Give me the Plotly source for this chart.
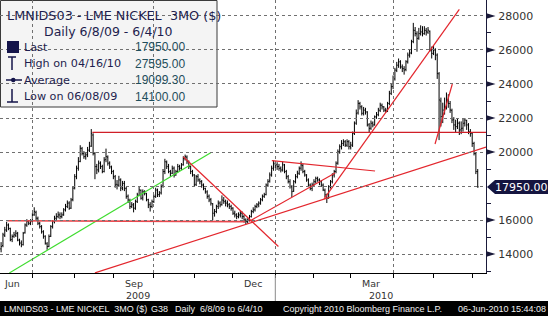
import numpy as np
import pandas as pd
import plotly.graph_objects as go

# ---------------- data ----------------
open_ = [
14300,14500,15100,15400,15700,15500,14850,15050,15100,15200,
14800,14650,14550,15250,15700,15900,15800,15950,16300,16450,
16100,15800,15600,15300,15050,14600,14450,15050,15600,15900,
16100,16200,16300,16200,16300,16600,16800,17000,16700,17200,
17900,18550,19050,19450,20200,19900,19750,19850,20100,20350,
21000,19900,19150,18950,19350,19150,18850,19550,19700,19350,
19100,18850,18550,18100,18050,18350,17900,18150,17850,17400,
17150,16800,16900,16700,17100,17450,17750,17300,17650,17550,
17200,16900,16800,17100,17400,17750,17500,17600,18000,18850,
19400,19150,18850,18750,19050,18650,18850,19150,19050,19250,
19600,19700,19450,19150,18850,18650,18100,18550,18350,18250,
18050,17850,17650,17400,17200,16950,16400,16500,16800,17000,
16900,17150,17100,17000,16900,16800,16700,16400,16300,16200,
16300,16400,16200,16000,15900,16000,16200,16500,16600,16800,
16900,17000,17200,17400,17500,18050,18300,18650,19050,19300,
19250,19150,19050,18950,19250,18850,18550,18250,17950,17700,
18250,18550,18750,19050,19200,18850,18650,18350,18050,17850,
18050,18250,18450,18350,18250,18050,17750,17450,17300,17950,
18250,18650,18850,19350,20000,20300,20500,20600,20400,20600,
20300,20400,21100,21700,22300,22850,22650,22300,22450,22350,
21600,21400,21700,21600,22050,22200,22450,22750,22650,22450,
22450,22850,23450,23850,24300,24800,25100,25300,25000,24900,
24850,25300,25700,25850,26500,27150,26950,26700,26950,27050,
26950,27150,27050,27100,26000,25800,26000,25700,24600,23000,
22100,22450,22650,23050,22850,22450,21900,21600,21500,21700,
21300,21400,21700,21850,21600,21200,21100,20500,19900,18850]

high = [
14700,15250,15600,15900,15800,15550,15150,15300,15400,15300,
14900,14800,15300,15800,16050,16000,16050,16400,16750,16550,
16200,15900,15700,15400,15100,14700,15150,15700,16000,16250,
16400,16500,16450,16450,16700,16950,17150,17100,17300,18000,
18700,19200,19700,20400,20300,20050,20000,20300,20600,21350,
21100,20000,19300,19500,19450,19250,19700,20200,19800,19450,
19200,18950,18650,18350,18600,18450,18300,18300,17950,17500,
17250,17050,17000,17200,17600,18000,17800,17800,17750,17600,
17250,17050,17200,17500,17900,17850,17700,18100,19000,19600,
19500,19300,18950,19200,19150,18950,19300,19250,19350,19750,
19850,19800,19500,19200,18950,18700,18650,18700,18450,18350,
18150,17900,17750,17500,17300,17000,16650,16900,17150,17100,
17450,17350,17200,17150,17000,16900,16750,16550,16400,16450,
16550,16500,16300,16100,16100,16300,16600,16750,16900,17000,
17100,17300,17500,17600,18150,18400,18800,19200,19500,19450,
19400,19300,19150,19450,19300,18950,18650,18400,18050,18350,
18700,18900,19150,19450,19300,18950,18700,18450,18150,18200,
18400,18550,18550,18450,18350,18150,17850,17550,18050,18350,
18750,18950,19450,20150,20450,20700,20750,20700,20750,20700,
20600,21200,21800,22500,23050,22950,22750,22650,22600,22400,
21700,21850,21800,22150,22350,22600,22900,22850,22700,22600,
22950,23600,24000,24500,24950,25300,25500,25400,25150,25050,
25400,25850,26000,26600,27595,27350,27100,27300,27450,27400,
27400,27300,27350,27150,26200,26250,26100,25800,24700,23200,
22900,23200,23500,23400,23000,22550,22050,21900,22000,21800,
21800,22000,22000,21900,21700,21350,21150,20600,20000,19000]

low = [
14100,14400,15000,15300,15400,14750,14700,14950,15000,14750,
14500,14400,14500,15200,15600,15700,15700,15850,16250,16000,
15700,15500,15200,14900,14550,14250,14400,15000,15500,15800,
15950,16100,16050,16100,16250,16500,16700,16600,16650,17100,
17800,18400,18900,19400,19800,19600,19550,19700,20000,20300,
19800,18400,18700,18800,19000,18750,18800,19400,19200,19000,
18700,18400,17900,17800,17950,17700,17750,17700,17250,17000,
16650,16700,16450,16600,17000,17400,17200,17150,17450,17100,
16700,16500,16700,17000,17300,17350,17350,17500,17900,18700,
19000,18750,18550,18700,18500,18600,18800,18900,18950,19200,
19500,19300,19000,18700,18550,17950,18000,18250,18100,17900,
17750,17550,17250,17050,16850,16000,16200,16400,16650,16750,
16850,16950,16800,16750,16650,16550,16300,16150,16050,16100,
16150,16050,15850,15750,15800,15950,16150,16400,16500,16700,
16750,16900,17100,17300,17450,17950,18200,18550,18900,19050,
18950,18900,18800,18850,18750,18400,18150,17850,17350,17650,
18150,18450,18650,18900,18750,18550,18250,17950,17750,17700,
17950,18150,18250,18050,17950,17700,17350,17000,17250,17850,
18150,18500,18750,19250,19900,20150,20350,20300,20300,20150,
20150,20300,21000,21600,22200,22500,22150,22150,22200,21500,
21150,21300,21450,21550,21950,22100,22350,22500,22350,22300,
22350,22750,23350,23700,24200,24700,24950,24900,24700,24550,
24750,25200,25550,25750,26400,26800,25900,26600,26850,26800,
26900,26850,26950,25900,25500,25700,25400,24300,20700,21500,
21700,22200,22500,22600,22300,21700,21300,21150,21350,21000,
21050,21200,21500,21300,21050,20900,20300,19800,18700,17900]

close = [
14440,15130,15420,15710,15520,14830,15030,15130,15220,14830,
14640,14540,15220,15710,15910,15810,15910,16300,16500,16110,
15810,15620,15320,15030,14640,14440,15030,15620,15910,16110,
16200,16300,16200,16300,16600,16790,16990,16690,17180,17870,
18550,19040,19430,20220,19920,19730,19830,20120,20320,21100,
19920,19140,18950,19340,19140,18850,19530,19730,19340,19140,
18850,18550,18060,18060,18360,17870,18160,17870,17380,17180,
16790,16890,16690,17080,17480,17770,17280,17670,17580,17180,
16890,16790,17080,17380,17770,17480,17580,17970,18850,19430,
19140,18850,18750,19040,18650,18850,19140,19040,19240,19630,
19730,19430,19140,18850,18650,18060,18550,18360,18260,18060,
17870,17670,17380,17180,16990,16400,16500,16790,16990,16890,
17180,17080,16990,16890,16790,16690,16400,16300,16200,16300,
16400,16200,16010,15910,16010,16200,16500,16590,16790,16890,
16990,17180,17380,17480,18060,18260,18650,19040,19340,19240,
19140,19040,18940,19240,18850,18550,18260,17970,17670,18260,
18550,18750,19040,19240,18850,18650,18360,18060,17870,18060,
18260,18450,18360,18260,18060,17770,17480,17280,17970,18260,
18650,18850,19340,20020,20320,20510,20610,20410,20610,20320,
20410,21100,21690,22270,22860,22660,22270,22470,22370,21590,
21390,21690,21590,22080,22180,22470,22760,22660,22470,22470,
22860,23450,23840,24330,24820,25110,25310,25010,24920,24820,
25310,25700,25800,26480,27170,26970,26680,26970,27070,26970,
27170,27070,27170,25990,25800,25990,25700,24620,23060,22080,
22470,22660,23060,22860,22470,21880,21590,21490,21690,21290,
21390,21690,21880,21590,21200,21100,20510,19920,18850,17950]

# trend lines drawn on the chart (bar index, price)
green_x = [4.5, 113.9];    green_y = [12890, 19960]
support_x = [3.4, 132.6];  support_y = [15960, 15905]
resist_x = [49.6, 263.5];  resist_y = [21160, 21160]
down_x = [99.0, 150.7];    down_y = [19724, 14443]
long_x = [51.0, 263.5];    long_y = [12890, 20294]
rise_x = [134.7, 181.5];   rise_y = [15917, 18766]
steep_x = [175.5, 249.0];  steep_y = [17238, 28384]
top_x = [147.1, 203.2];    top_y = [19489, 18884]
short_x = [235.8, 245.2];  short_y = [20470, 24000]

y_major = [14000, 16000, 18000, 20000, 22000, 24000, 26000, 28000]
y_minor = [13000, 15000, 17000, 19000, 21000, 23000, 25000, 27000]
month_labels = ["Jun", "Sep", "Dec", "Mar"]
year_labels = ["2009", "2010"]

legend_rows = [("Last", "17950.00"), ("High on 04/16/10", "27595.00"),
               ("Average", "19099.30"), ("Low on 06/08/09", "14100.00")]
title_text = "LMNIDS03 - LME NICKEL  3MO ($)"
sub_text = "Daily 6/8/09 - 6/4/10"
last_text = "17950.00"

# ---------------- layout geometry ----------------
W, H = 548, 316
PR, PB = 62, 43
pw, ph = W - PR, H - PB
x_range = [-0.6, 263.5]
y_range = [12884, 28940]

def px(x):
    return x / pw

def py(y):
    return 1 - y / ph

N = len(close)
dates = pd.bdate_range("2009-06-08", periods=N)
idx = np.arange(N)
month_idx = [i for i in range(1, N) if dates[i].month != dates[i - 1].month]
quarter_idx = [i for i in month_idx if dates[i].month in (1, 4, 7, 10)]
year_idx = [i for i in month_idx if dates[i].month == 1][0]

def mid_month(year, month):
    for i in range(N):
        d = dates[i]
        if d.year == year and d.month == month and d.day >= 16:
            return i
    return None

label_pos = [mid_month(2009, 6), mid_month(2009, 9), mid_month(2009, 12), mid_month(2010, 3)]
year_pos = [(x_range[0] + year_idx) / 2, (year_idx + x_range[1]) / 2]

NAVY = "#14144a"
RED = "#e3262d"
FONT = "DejaVu Sans"
GRID = "#707070"

ux = (x_range[1] - x_range[0]) / pw   # data units per pixel (x)
uy = (y_range[1] - y_range[0]) / ph   # data units per pixel (y)

fig = go.Figure()
fig.add_trace(go.Ohlc(
    x=idx, open=open_, high=high, low=low, close=close,
    increasing=dict(line=dict(color="black", width=1)),
    decreasing=dict(line=dict(color="black", width=1)),
    tickwidth=0.45, hoverinfo="skip", showlegend=False))

def add_line(xs, ys, color, width=1.2):
    fig.add_trace(go.Scatter(x=xs, y=ys, mode="lines",
                             line=dict(color=color, width=width),
                             hoverinfo="skip", showlegend=False))

add_line(green_x, green_y, "#3fdc2f")
add_line(support_x, support_y, "#e8464b", 1.6)
add_line(resist_x, resist_y, "#d01f28", 1.3)
for xs, ys in [(down_x, down_y), (long_x, long_y), (rise_x, rise_y),
               (steep_x, steep_y), (top_x, top_y), (short_x, short_y)]:
    add_line(xs, ys, RED)

shapes = []
# legend box
shapes.append(dict(type="rect", xref="paper", yref="paper", layer="below",
                   x0=px(0.5), x1=px(217), y0=py(107), y1=py(0.5),
                   fillcolor="#f4f4f4", line=dict(color="#3a3a3a", width=1)))

# dotted grid: individual 3px dash segments as line shapes (drawn above)
for v in y_major:
    p = np.floor((y_range[1] - v) / uy) + 0.5
    s = 0.0
    while s < pw:
        shapes.append(dict(type="line", xref="paper", yref="paper", layer="above",
                           x0=px(s), x1=px(min(s + 3, pw)), y0=py(p), y1=py(p),
                           line=dict(color=GRID, width=1)))
        s += 6
for q in quarter_idx:
    p = np.floor((q - x_range[0]) / ux) + 0.5
    s = 0.0
    while s < ph:
        shapes.append(dict(type="line", xref="paper", yref="paper", layer="above",
                           x0=px(p), x1=px(p), y0=py(s), y1=py(min(s + 3, ph)),
                           line=dict(color=GRID, width=1)))
        s += 6

# legend icons
shapes.append(dict(type="rect", xref="paper", yref="paper",
                   x0=px(7), x1=px(19), y0=py(53), y1=py(41),
                   fillcolor=NAVY, line=dict(width=0)))
for (x0, y0, x1, y1) in [(12, 57, 12, 70), (8, 57, 16, 57),
                         (6, 80, 22, 80),
                         (12, 89, 12, 102), (7, 102, 18, 102)]:
    shapes.append(dict(type="line", xref="paper", yref="paper",
                       x0=px(x0), y0=py(y0), x1=px(x1), y1=py(y1),
                       line=dict(color=NAVY, width=1.5)))
shapes.append(dict(type="circle", xref="paper", yref="paper",
                   x0=px(11), x1=px(15.5), y0=py(82.3), y1=py(77.8),
                   fillcolor=NAVY, line=dict(width=0)))
# axis arrow markers
for v in y_major:
    if v == 18000:
        continue
    d = 2.8 * uy
    shapes.append(dict(type="path", xref="paper", yref="y",
                       path=f"M {px(486.5)},{v + d} L {px(495.5)},{v} L {px(486.5)},{v - d} Z",
                       fillcolor="#1a1a3a", line=dict(width=0)))
# last price box
shapes.append(dict(type="path", xref="paper", yref="paper",
                   path=(f"M {px(487)},{py(187)} L {px(495)},{py(180)} L {px(548)},{py(180)} "
                         f"L {px(548)},{py(194)} L {px(495)},{py(194)} Z"),
                   fillcolor="#151540", line=dict(width=0)))
# year separator
shapes.append(dict(type="line", xref="x", yref="paper", x0=year_idx, x1=year_idx,
                   y0=py(275), y1=py(301), line=dict(color="#8a8a8a", width=1)))
# footer bar
shapes.append(dict(type="rect", xref="paper", yref="paper",
                   x0=px(0), x1=px(548), y0=py(316), y1=py(301),
                   fillcolor="black", line=dict(width=0)))

ann = []
ann.append(dict(text=title_text, x=px(5), y=py(15), xanchor="left", yanchor="middle",
                font=dict(family=FONT, size=12.8, color="#1e1e4e")))
ann.append(dict(text=sub_text, x=px(108), y=py(31.5), xanchor="center", yanchor="middle",
                font=dict(family=FONT, size=12.5, color="#1e1e4e")))
for k, (lab, val) in enumerate(legend_rows):
    yy = 47 + k * 16.5
    ann.append(dict(text=lab, x=px(22), y=py(yy), xanchor="left", yanchor="middle",
                    font=dict(family=FONT, size=11.2, color="#1e1e4e")))
    ann.append(dict(text=val, x=px(187), y=py(yy), xanchor="right", yanchor="middle",
                    font=dict(family="Liberation Sans", size=12, color="#1f4e5c")))
ann.append(dict(text=last_text, x=px(521.5), y=py(187), xanchor="center", yanchor="middle",
                font=dict(family=FONT, size=11, color="white")))
for lab, pos in zip(month_labels, label_pos):
    ann.append(dict(text=lab, x=pos, xref="x", y=py(283), xanchor="center", yanchor="middle",
                    font=dict(family=FONT, size=9.5, color="#333333")))
for lab, pos in zip(year_labels, year_pos):
    ann.append(dict(text=lab, x=pos, xref="x", y=py(295.5), xanchor="center", yanchor="middle",
                    font=dict(family=FONT, size=9.5, color="#333333")))
footer = [("LMNIDS03 - LME NICKEL  3MO ($)", 2), ("G38", 149), ("Daily  6/8/09 to 6/4/10", 173),
          ("Copyright 2010 Bloomberg Finance L.P.", 281), ("06-Jun-2010 15:44:08", 456)]
for txt, x0 in footer:
    ann.append(dict(text=txt, x=px(x0), y=py(308.5), xanchor="left", yanchor="middle",
                    font=dict(family="Liberation Sans", size=9, color="#f0f0f0")))
for a in ann:
    a.setdefault("xref", "paper")
    a["yref"] = "paper"
    a["showarrow"] = False

fig.update_layout(
    width=W, height=H, autosize=False,
    margin=dict(l=0, r=PR, t=0, b=PB, pad=0),
    paper_bgcolor="white", plot_bgcolor="rgba(0,0,0,0)",
    showlegend=False, shapes=shapes, annotations=ann,
    xaxis=dict(range=x_range, type="linear", tickvals=quarter_idx, ticks="outside", ticklen=4,
               tickcolor="black", showticklabels=False, showgrid=False,
               showline=True, linecolor="black", linewidth=1,
               zeroline=False, rangeslider=dict(visible=False), fixedrange=True,
               minor=dict(tickvals=month_idx, ticks="outside", ticklen=4, tickcolor="black",
                          showgrid=False)),
    yaxis=dict(side="right", range=y_range, tickvals=y_major,
               ticktext=["" if v == 18000 else str(v) for v in y_major],
               ticks="outside", ticklen=9, tickcolor="rgba(0,0,0,0)", showgrid=False,
               showline=True, linecolor="#1a1a3a", linewidth=1, zeroline=False,
               tickfont=dict(family=FONT, size=11, color="#333333"), fixedrange=True,
               minor=dict(tickvals=y_minor, ticks="outside", ticklen=4, tickcolor="#1a1a3a",
                          showgrid=False)),
)

fig.write_html("out.html")
